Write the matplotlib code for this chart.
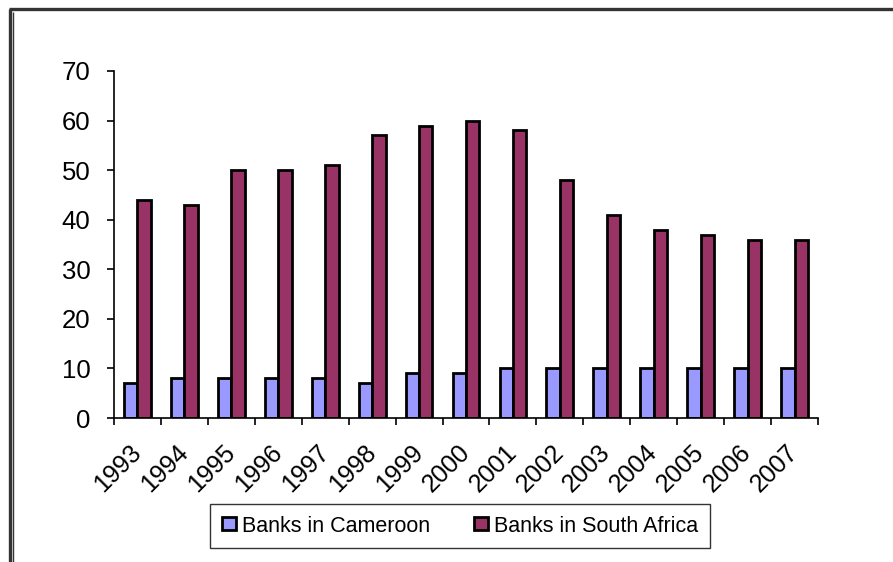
import matplotlib
matplotlib.use("Agg")
import matplotlib.pyplot as plt
import numpy as np
from matplotlib.lines import Line2D

plt.rcParams['font.family'] = ['Liberation Sans', 'DejaVu Sans']

years = ["1993", "1994", "1995", "1996", "1997", "1998", "1999", "2000",
         "2001", "2002", "2003", "2004", "2005", "2006", "2007"]
banks_cameroon = [7, 8, 8, 8, 8, 7, 9, 9, 10, 10, 10, 10, 10, 10, 10]
banks_south_africa = [44, 43, 50, 50, 51, 57, 59, 60, 58, 48, 41, 38, 37, 36, 36]
series_names = ["Banks in Cameroon", "Banks in South Africa"]
series_colors = ["#9999FF", "#993366"]
y_ticks = [0, 10, 20, 30, 40, 50, 60, 70]

W, H = 893, 562
fig = plt.figure(figsize=(W / 100, H / 100), dpi=100)
fig.patch.set_facecolor("white")

# outer chart frame
fig.add_artist(Line2D([10 / W, 10 / W], [0, 1 - 9 / H], transform=fig.transFigure,
                      color="#333333", lw=2.4, solid_capstyle="butt"))
fig.add_artist(Line2D([13 / W, 13 / W], [0, 1 - 12 / H], transform=fig.transFigure,
                      color="#333333", lw=1.0, solid_capstyle="butt"))
fig.add_artist(Line2D([9 / W, 1], [1 - 9 / H, 1 - 9 / H], transform=fig.transFigure,
                      color="#333333", lw=2.4, solid_capstyle="butt"))

ax = fig.add_axes([114 / W, 1 - 418 / H, (818 - 114) / W, (418 - 71) / H])

x = np.arange(len(years))
bw = 0.285
ax.bar(x - bw / 2, banks_cameroon, width=bw, color=series_colors[0],
       edgecolor="black", linewidth=2.0, label=series_names[0])
ax.bar(x + bw / 2, banks_south_africa, width=bw, color=series_colors[1],
       edgecolor="black", linewidth=2.0, label=series_names[1])

ax.set_xlim(-0.5, len(years) - 0.5)
ax.set_ylim(0, 70)
ax.set_yticks(y_ticks)
ax.set_yticklabels([str(v) for v in y_ticks], fontsize=18.5)

# tick marks on category boundaries, labels at centres
ax.set_xticks(np.arange(len(years) + 1) - 0.5)
ax.set_xticklabels([])
ax.set_xticks(x, minor=True)
ax.set_xticklabels(years, minor=True, rotation=45, ha="right",
                   rotation_mode="anchor", va="center", fontsize=18)
ax.tick_params(axis="x", which="minor", length=0, pad=22)
ax.tick_params(axis="x", which="major", length=5, width=1.2, direction="out")
ax.tick_params(axis="y", length=5, width=1.2, direction="out", pad=12)

for side in ("top", "right"):
    ax.spines[side].set_visible(False)
for side in ("left", "bottom"):
    ax.spines[side].set_linewidth(1.2)

leg = fig.legend(loc="center", bbox_to_anchor=(460 / W, 1 - 526 / H), ncol=2,
                 fontsize=15.5, frameon=True, fancybox=False, edgecolor="black",
                 handlelength=0.65, handleheight=0.55, handletextpad=0.3,
                 columnspacing=2.0, borderpad=0.55)
leg.get_frame().set_linewidth(1.0)
for h in leg.legend_handles:
    h.set_linewidth(2.0)

fig.savefig("out.png", dpi=100)
